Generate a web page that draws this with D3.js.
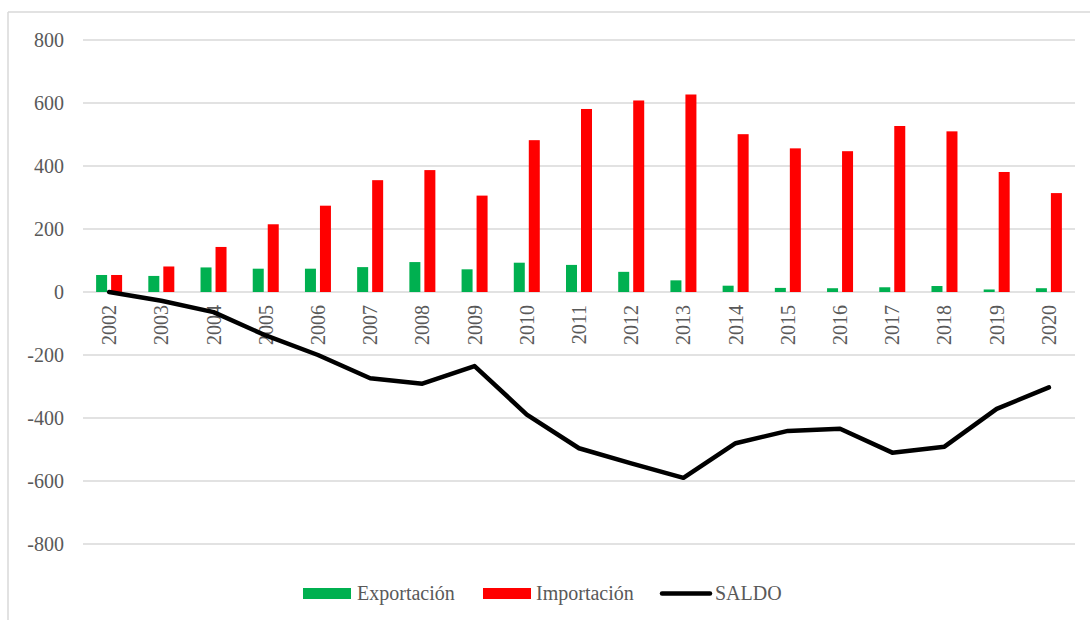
<!DOCTYPE html>
<html>
<head>
<meta charset="utf-8">
<script src="https://cdn.jsdelivr.net/npm/d3@7/dist/d3.min.js"></script>
<style>
  body { margin: 0; background: #fff; }
  svg { display: block; }
  text { font-family: "Liberation Serif", "Times New Roman", serif; fill: #595959; }
</style>
</head>
<body>
<svg id="chart" width="1090" height="620"></svg>
<script>
const years = ["2002","2003","2004","2005","2006","2007","2008","2009","2010","2011","2012","2013","2014","2015","2016","2017","2018","2019","2020"];
const exportacion = [54, 51, 78, 74, 74, 79, 95, 72, 93, 86, 64, 37, 20, 13, 12, 15, 19, 8, 12];
const importacion = [54, 81, 143, 215, 274, 355, 387, 306, 482, 581, 608, 627, 501, 456, 447, 527, 510, 381, 314];
const saldo = [0, -28, -64, -138, -200, -274, -291, -235, -389, -496, -544, -590, -480, -441, -434, -510, -491, -371, -303];
const yTicks = [800, 600, 400, 200, 0, -200, -400, -600, -800];
const seriesNames = ["Exportación", "Importación", "SALDO"];
const colors = ["#00b050", "#ff0000", "#000000"];

const svg = d3.select("#chart");

// outer frame (top and left visible)
svg.append("line").attr("x1", 8).attr("x2", 1090).attr("y1", 12).attr("y2", 12)
  .attr("stroke", "#d9d9d9").attr("stroke-width", 1.5);
svg.append("line").attr("x1", 8).attr("x2", 8).attr("y1", 12).attr("y2", 620)
  .attr("stroke", "#d9d9d9").attr("stroke-width", 1.5);

const left = 83, right = 1075;
const y = d3.scaleLinear().domain([-800, 800]).range([544, 40]);
const x = d3.scaleBand().domain(years).range([left, right]);

// gridlines
svg.append("g").selectAll("line").data(yTicks).join("line")
  .attr("x1", left).attr("x2", right)
  .attr("y1", d => y(d)).attr("y2", d => y(d))
  .attr("stroke", "#d9d9d9").attr("stroke-width", 1.5);

// y labels
svg.append("g").selectAll("text").data(yTicks).join("text")
  .attr("x", 64).attr("y", d => y(d)).attr("dy", "0.35em")
  .attr("text-anchor", "end").attr("font-size", 20)
  .text(d => d);

// bars
const barW = 11, gap = 4;
const bars = svg.append("g");
bars.selectAll("rect.exp").data(years).join("rect").attr("class", "exp")
  .attr("x", (d) => x(d) + x.bandwidth() / 2 - gap / 2 - barW)
  .attr("width", barW)
  .attr("y", (d, i) => y(exportacion[i]))
  .attr("height", (d, i) => y(0) - y(exportacion[i]))
  .attr("fill", colors[0]);
bars.selectAll("rect.imp").data(years).join("rect").attr("class", "imp")
  .attr("x", (d) => x(d) + x.bandwidth() / 2 + gap / 2)
  .attr("width", barW)
  .attr("y", (d, i) => y(importacion[i]))
  .attr("height", (d, i) => y(0) - y(importacion[i]))
  .attr("fill", colors[1]);

// x labels (rotated)
svg.append("g").selectAll("text").data(years).join("text")
  .attr("transform", d => `translate(${x(d) + x.bandwidth() / 2},305) rotate(-90)`)
  .attr("text-anchor", "end").attr("dy", "0.35em").attr("font-size", 20)
  .text(d => d);

// saldo line
const line = d3.line().x((d, i) => x(years[i]) + x.bandwidth() / 2).y(d => y(d));
svg.append("path").datum(saldo).attr("d", line)
  .attr("fill", "none").attr("stroke", colors[2]).attr("stroke-width", 4.5)
  .attr("stroke-linecap", "round").attr("stroke-linejoin", "round");

// legend
const lg = svg.append("g");
lg.append("rect").attr("x", 303).attr("y", 588).attr("width", 48).attr("height", 11).attr("fill", colors[0]);
lg.append("text").attr("x", 357).attr("y", 600).attr("font-size", 20).text(seriesNames[0]);
lg.append("rect").attr("x", 483).attr("y", 588).attr("width", 48).attr("height", 11).attr("fill", colors[1]);
lg.append("text").attr("x", 536).attr("y", 600).attr("font-size", 20).text(seriesNames[1]);
lg.append("line").attr("x1", 662).attr("x2", 710).attr("y1", 593.5).attr("y2", 593.5)
  .attr("stroke", colors[2]).attr("stroke-width", 4.5).attr("stroke-linecap", "round");
lg.append("text").attr("x", 715).attr("y", 600).attr("font-size", 20).text(seriesNames[2]);
</script>
</body>
</html>
